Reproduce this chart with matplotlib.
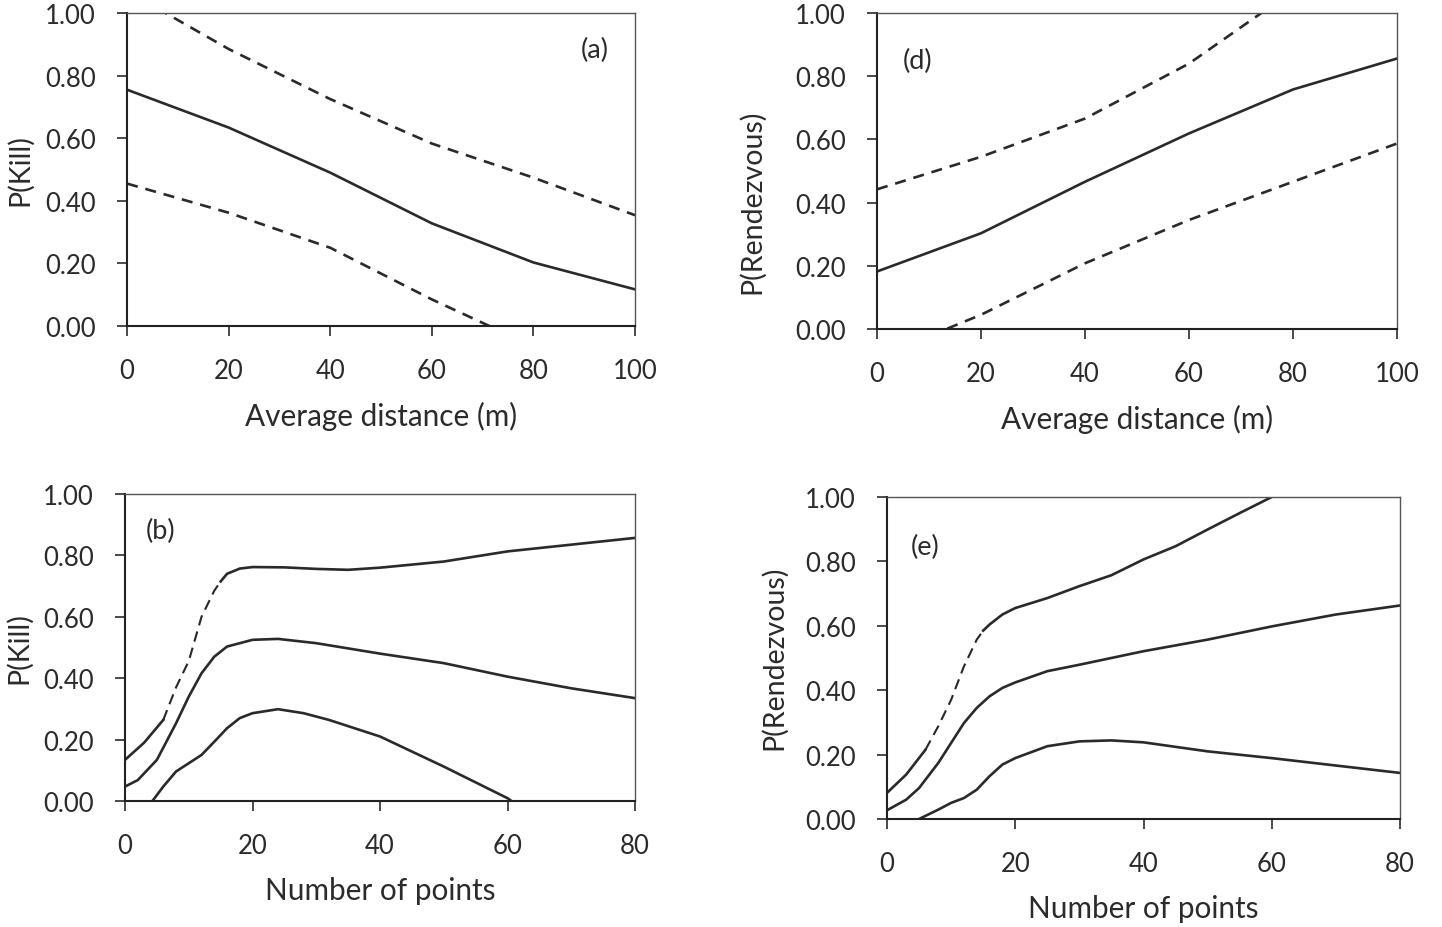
import numpy as np
import matplotlib
matplotlib.use("Agg")
import matplotlib.pyplot as plt

plt.rcParams['font.family'] = ['Lato', 'DejaVu Sans']

# panel (a): P(Kill) vs average distance
dist = [0, 20, 40, 60, 80, 100]
kill_mean = [0.755, 0.634, 0.49, 0.328, 0.203, 0.117]
kill_hi = [1.07, 0.885, 0.725, 0.583, 0.474, 0.354]
kill_lo = [0.455, 0.362, 0.25, 0.085, -0.065, -0.22]

# panel (d): P(Rendezvous) vs average distance
rdv_mean = [0.182, 0.303, 0.466, 0.619, 0.758, 0.856]
rdv_hi = [0.442, 0.545, 0.666, 0.84, 1.07, 1.3]
rdv_lo = [-0.09, 0.045, 0.208, 0.345, 0.466, 0.587]

# panel (b): P(Kill) vs number of points
pts_b_hi = [0, 3, 6, 8, 10, 12, 14, 15, 16, 18, 20, 25, 30, 35, 40, 50, 60, 70, 80]
kill_n_hi = [0.134, 0.19, 0.264, 0.37, 0.456, 0.60, 0.685, 0.715, 0.74, 0.757, 0.762,
             0.761, 0.756, 0.753, 0.76, 0.78, 0.813, 0.835, 0.857]
pts_b = [0, 2, 5, 8, 10, 12, 14, 16, 20, 24, 30, 40, 50, 60, 70, 80]
kill_n_mean = [0.047, 0.068, 0.134, 0.253, 0.34, 0.416, 0.47, 0.503, 0.525, 0.528,
               0.514, 0.48, 0.449, 0.405, 0.367, 0.335]
pts_b_lo = [0, 4.3, 6, 8, 10, 12, 14, 16, 18, 20, 24, 28, 32, 40, 50, 60, 62]
kill_n_lo = [-0.12, 0.0, 0.047, 0.096, 0.123, 0.15, 0.193, 0.237, 0.27, 0.286, 0.299,
             0.286, 0.264, 0.21, 0.112, 0.009, -0.02]

# panel (e): P(Rendezvous) vs number of points
pts_e_hi = [0, 3, 6, 8, 10, 12, 14, 15, 16, 18, 20, 25, 30, 35, 40, 45, 50, 55, 60, 65]
rdv_n_hi = [0.081, 0.138, 0.215, 0.288, 0.37, 0.474, 0.557, 0.585, 0.604, 0.635, 0.655,
            0.686, 0.723, 0.757, 0.806, 0.847, 0.899, 0.95, 1.0, 1.05]
pts_e = [0, 3, 5, 8, 10, 12, 14, 16, 18, 20, 25, 30, 40, 50, 60, 70, 80]
rdv_n_mean = [0.027, 0.06, 0.096, 0.174, 0.236, 0.298, 0.345, 0.381, 0.407, 0.424,
              0.459, 0.479, 0.521, 0.557, 0.598, 0.635, 0.663]
pts_e_lo = [0, 5, 8, 10, 12, 14, 16, 18, 20, 25, 30, 35, 40, 50, 60, 70, 80]
rdv_n_lo = [-0.08, 0.0, 0.029, 0.05, 0.065, 0.091, 0.133, 0.169, 0.189, 0.226, 0.241,
            0.244, 0.238, 0.21, 0.189, 0.166, 0.143]

yticks = [0.0, 0.2, 0.4, 0.6, 0.8, 1.0]
line_col = '#2a2a2a'
txt_col = '#2b2b2b'
lw = 1.9
dash = (0, (4.2, 3.0))

fig = plt.figure(figsize=(14.42, 9.28), dpi=100)
ax_a = fig.add_axes([0.0881, 0.6476, 0.3523, 0.3373])
ax_d = fig.add_axes([0.6082, 0.6444, 0.3606, 0.3405])
ax_b = fig.add_axes([0.0867, 0.1358, 0.3537, 0.3308])
ax_e = fig.add_axes([0.6151, 0.1164, 0.3558, 0.3470])


def style(ax, xmax, xstep, xlabel, ylabel, ylab_xy, tag, tagpos):
    ax.set_xlim(0, xmax)
    ax.set_ylim(0, 1)
    ax.set_xticks(np.arange(0, xmax + 1, xstep))
    ax.set_yticks(yticks)
    ax.set_yticklabels([f'{v:.2f}' for v in yticks])
    ax.tick_params(direction='out', length=7, width=1.2, colors=txt_col,
                   labelsize=18.5)
    ax.tick_params(axis='x', pad=16)
    ax.tick_params(axis='y', pad=15.5)
    for s in ['left', 'bottom']:
        ax.spines[s].set_color('#222222')
        ax.spines[s].set_linewidth(1.5)
    for s in ['top', 'right']:
        ax.spines[s].set_color('#555555')
        ax.spines[s].set_linewidth(1.0)
    ax.set_xlabel(xlabel, fontsize=21.4, color=txt_col, labelpad=13)
    ax.set_ylabel(ylabel, fontsize=20.5, color=txt_col)
    ax.yaxis.set_label_coords(*ylab_xy)
    ax.text(tagpos[0], tagpos[1], tag, transform=ax.transAxes, fontsize=19.5,
            color=txt_col, ha='center', va='center')


# (a)
ax_a.plot(dist, kill_mean, color=line_col, lw=lw)
ax_a.plot(dist, kill_hi, color=line_col, lw=lw, linestyle=dash)
ax_a.plot(dist, kill_lo, color=line_col, lw=lw, linestyle=dash)
style(ax_a, 100, 20, 'Average distance (m)', 'P(Kill)', (-0.185, 0.5),
      '(a)', (0.92, 0.885))

# (d)
ax_d.plot(dist, rdv_mean, color=line_col, lw=lw)
ax_d.plot(dist, rdv_hi, color=line_col, lw=lw, linestyle=dash)
ax_d.plot(dist, rdv_lo, color=line_col, lw=lw, linestyle=dash)
style(ax_d, 100, 20, 'Average distance (m)', 'P(Rendezvous)', (-0.215, 0.405),
      '(d)', (0.077, 0.85))


def split_plot(ax, xs, ys, a, b):
    # solid outside [a, b], dashed inside
    xs = np.array(xs)
    ys = np.array(ys)
    m1 = xs <= a
    m2 = (xs >= a) & (xs <= b)
    m3 = xs >= b
    ax.plot(xs[m1], ys[m1], color=line_col, lw=lw)
    ax.plot(xs[m2], ys[m2], color=line_col, lw=lw * 0.8, linestyle=(0, (5, 3)))
    ax.plot(xs[m3], ys[m3], color=line_col, lw=lw)


# (b)
split_plot(ax_b, pts_b_hi, kill_n_hi, 6, 15)
ax_b.plot(pts_b, kill_n_mean, color=line_col, lw=lw)
ax_b.plot(pts_b_lo, kill_n_lo, color=line_col, lw=lw)
style(ax_b, 80, 20, 'Number of points', 'P(Kill)', (-0.182, 0.5),
      '(b)', (0.07, 0.88))

# (e)
split_plot(ax_e, pts_e_hi, rdv_n_hi, 6, 15)
ax_e.plot(pts_e, rdv_n_mean, color=line_col, lw=lw)
ax_e.plot(pts_e_lo, rdv_n_lo, color=line_col, lw=lw)
style(ax_e, 80, 20, 'Number of points', 'P(Rendezvous)', (-0.195, 0.503),
      '(e)', (0.075, 0.845))

fig.savefig('out.png', dpi=100)
